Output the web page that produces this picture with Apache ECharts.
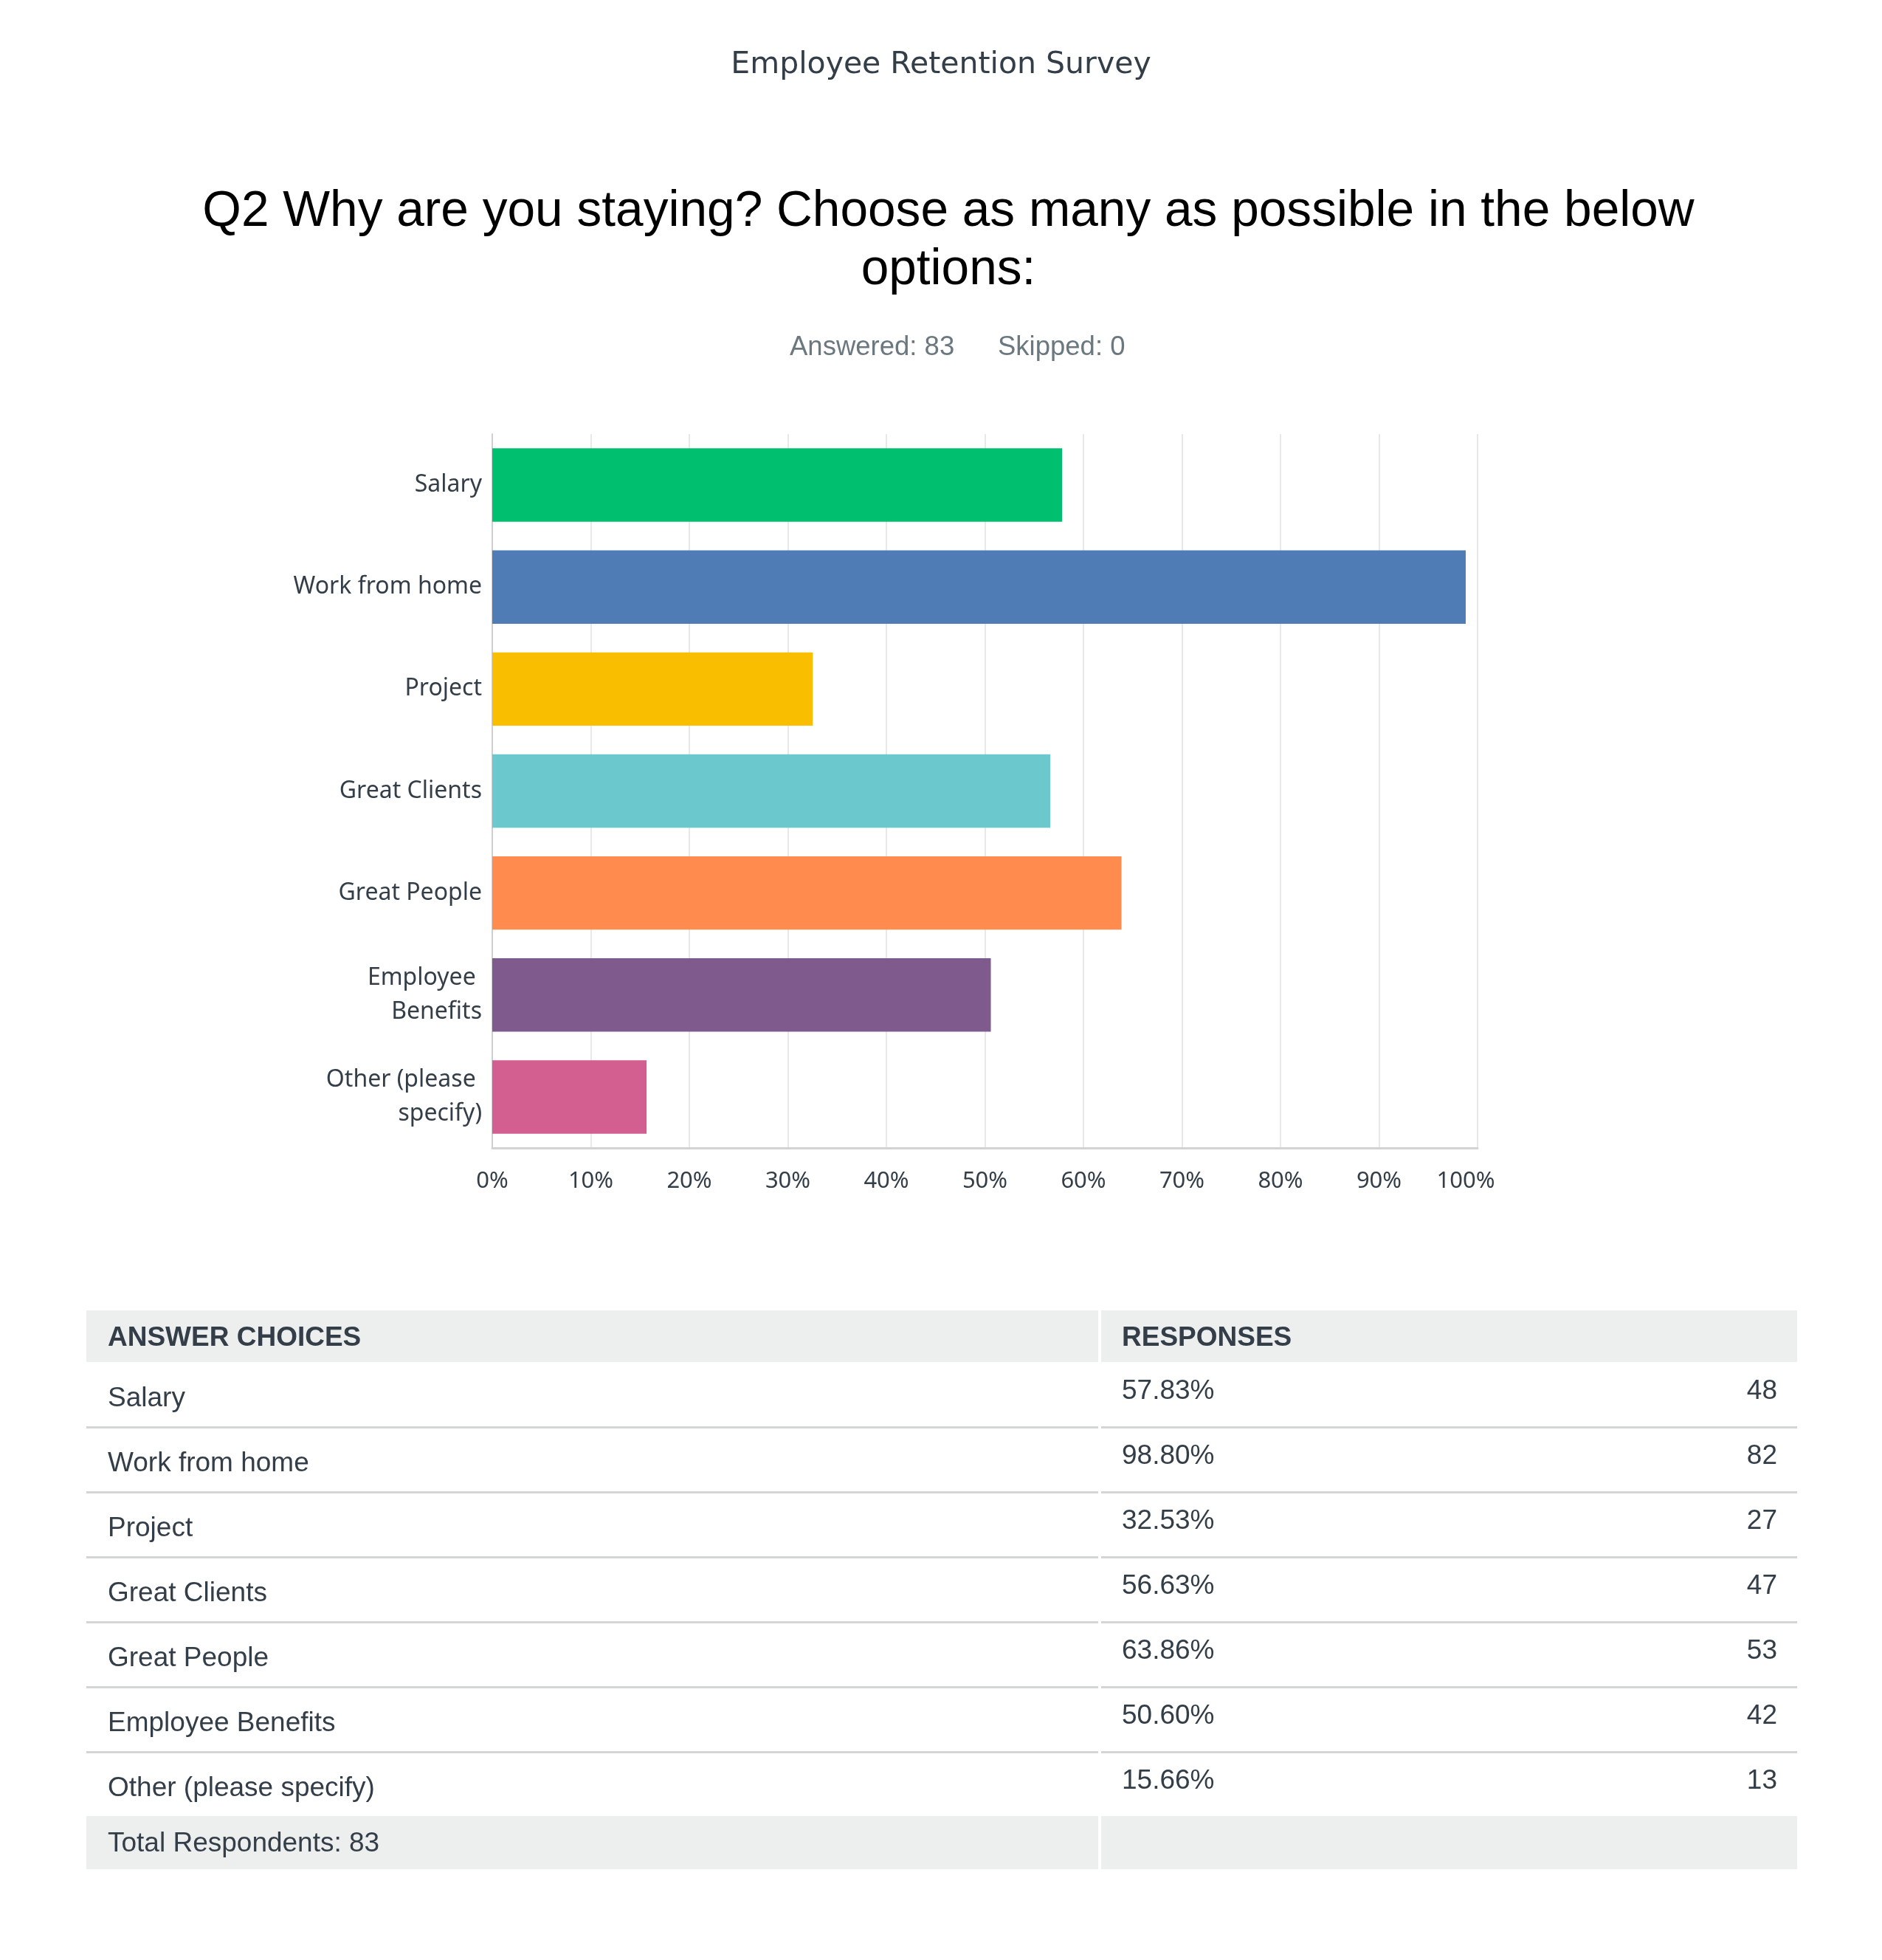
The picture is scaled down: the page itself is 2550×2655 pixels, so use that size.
<!DOCTYPE html>
<html>
<head>
<meta charset="utf-8">
<script src="https://cdn.jsdelivr.net/npm/echarts@6/dist/echarts.min.js"></script>
<style>
html,body{margin:0;padding:0;background:#fff;}
#chart{width:2550px;height:2655px;}
</style>
</head>
<body>
<div id="chart"></div>
<script>
var surveyTitle = 'Employee Retention Survey';
var questionLines = ['Q2 Why are you staying? Choose as many as possible in the below', 'options:'];
var answeredText = 'Answered: 83';
var skippedText = 'Skipped: 0';
var categories = ['Salary', 'Work from home', 'Project', 'Great Clients', 'Great People', 'Employee Benefits', 'Other (please specify)'];
var percentages = [57.83, 98.80, 32.53, 56.63, 63.86, 50.60, 15.66];
var counts = [48, 82, 27, 47, 53, 42, 13];
var barColors = ['#00BF6F', '#507CB6', '#F9BE00', '#6BC8CD', '#FF8B4F', '#7F5A8D', '#D25F90'];
var tableHeaders = ['ANSWER CHOICES', 'RESPONSES'];
var totalText = 'Total Respondents: 83';

var chart = echarts.init(document.getElementById('chart'), null, {renderer: 'canvas'});

var textColor = '#333e48';
var graphics = [];
graphics.push({type: 'text', x: 1275, y: 88, style: {text: surveyTitle, font: '41px "DejaVu Sans"', fill: '#333e48', align: 'center', verticalAlign: 'middle'}});
questionLines.forEach(function (line, i) {
  graphics.push({type: 'text', x: 1285, y: 287 + i * 79, style: {text: line, font: '67.6px "Liberation Sans"', fill: '#000', align: 'center', verticalAlign: 'middle'}});
});
graphics.push({type: 'text', x: 1070, y: 471, style: {text: answeredText, font: '36.5px "Liberation Sans"', fill: '#6b787f', align: 'left', verticalAlign: 'middle'}});
graphics.push({type: 'text', x: 1352, y: 471, style: {text: skippedText, font: '36.5px "Liberation Sans"', fill: '#6b787f', align: 'left', verticalAlign: 'middle'}});

// table
var tL = 117, tR = 2435, divL = 1488, divR = 1492;
var headTop = 1775, headH = 70, rowH = 88;
var headGray = '#edeeee', lineGray = '#d3d5d6';
graphics.push({type: 'rect', shape: {x: tL, y: headTop, width: divL - tL, height: headH}, style: {fill: headGray}});
graphics.push({type: 'rect', shape: {x: divR, y: headTop, width: tR - divR, height: headH}, style: {fill: headGray}});
graphics.push({type: 'text', x: 146, y: headTop + 38, style: {text: tableHeaders[0], font: 'bold 37px "Liberation Sans"', fill: textColor, verticalAlign: 'middle'}});
graphics.push({type: 'text', x: 1520, y: headTop + 38, style: {text: tableHeaders[1], font: 'bold 37px "Liberation Sans"', fill: textColor, verticalAlign: 'middle'}});
var rowsTop = headTop + headH;
categories.forEach(function (c, i) {
  var y0 = rowsTop + i * rowH;
  graphics.push({type: 'text', x: 146, y: y0 + 50, style: {text: c, font: '37px "Liberation Sans"', fill: textColor, verticalAlign: 'middle'}});
  graphics.push({type: 'text', x: 1520, y: y0 + 40, style: {text: percentages[i].toFixed(2) + '%', font: '37px "Liberation Sans"', fill: textColor, verticalAlign: 'middle'}});
  graphics.push({type: 'text', x: 2408, y: y0 + 40, style: {text: String(counts[i]), font: '37px "Liberation Sans"', fill: textColor, align: 'right', verticalAlign: 'middle'}});
  if (i < categories.length - 1) {
    graphics.push({type: 'rect', shape: {x: tL, y: y0 + rowH - 1, width: divL - tL, height: 3}, style: {fill: lineGray}});
    graphics.push({type: 'rect', shape: {x: divR, y: y0 + rowH - 1, width: tR - divR, height: 3}, style: {fill: lineGray}});
  }
});
var footTop = rowsTop + categories.length * rowH - 1;
graphics.push({type: 'rect', shape: {x: tL, y: footTop, width: divL - tL, height: 72}, style: {fill: headGray}});
graphics.push({type: 'rect', shape: {x: divR, y: footTop, width: tR - divR, height: 72}, style: {fill: headGray}});
graphics.push({type: 'text', x: 146, y: footTop + 38, style: {text: totalText, font: '37px "Liberation Sans"', fill: textColor, verticalAlign: 'middle'}});

var option = {
  backgroundColor: '#ffffff',
  animation: false,
  graphic: graphics,
  grid: {left: 667, right: 548, top: 588, bottom: 1100, containLabel: false},
  xAxis: {
    type: 'value', min: 0, max: 100, interval: 10,
    axisLine: {show: true, lineStyle: {color: '#d3d3d3', width: 3}},
    axisTick: {show: false},
    splitLine: {show: true, lineStyle: {color: '#e8e8e8', width: 2}},
    axisLabel: {
      margin: 30, color: textColor, fontFamily: 'Noto Sans', fontSize: 31,
      formatter: function (v) { return v === 100 ? '{last|' + v + '%}' : v + '%'; },
      rich: {last: {fontFamily: 'Noto Sans', fontSize: 31, color: textColor, padding: [0, 32, 0, 0]}}
    }
  },
  yAxis: {
    type: 'category', data: categories, inverse: true,
    axisLine: {show: true, lineStyle: {color: '#cfcfcf', width: 2}},
    axisTick: {show: false},
    splitLine: {show: false},
    axisLabel: {
      margin: 14, color: textColor, fontFamily: 'Noto Sans', fontSize: 32,
      width: 268, overflow: 'break', lineHeight: 46, align: 'right'
    }
  },
  series: [{
    type: 'bar',
    data: percentages.map(function (v, i) { return {value: v, itemStyle: {color: barColors[i]}}; }),
    barCategoryGap: '28%',
    label: {show: false}
  }]
};
chart.setOption(option);
</script>
</body>
</html>
